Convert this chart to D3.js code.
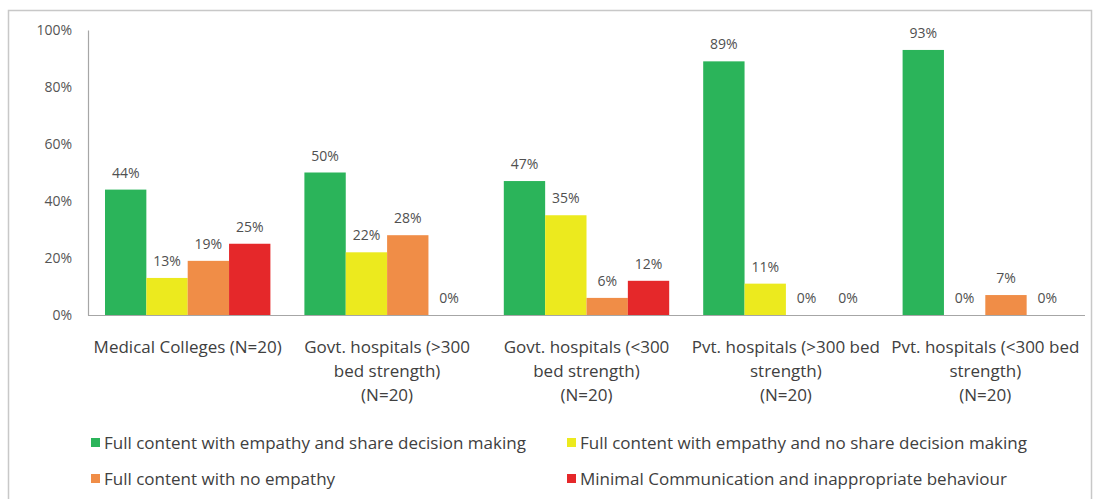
<!DOCTYPE html>
<html>
<head>
<meta charset="utf-8">
<script src="https://cdn.jsdelivr.net/npm/d3@7"></script>
<style>
  html, body { margin: 0; padding: 0; background: #fff; }
  svg { display: block; font-family: "Open Sans", Lato, sans-serif; }
</style>
</head>
<body>
<svg id="chart" width="1097" height="499"></svg>
<script>
// Hospital groups (x axis), with the wrapped lines of each axis label
const categories = [
  "Medical Colleges (N=20)",
  "Govt. hospitals (>300 bed strength) (N=20)",
  "Govt. hospitals (<300 bed strength) (N=20)",
  "Pvt. hospitals (>300 bed strength) (N=20)",
  "Pvt. hospitals (<300 bed strength) (N=20)"
];
const categoryLines = [
  ["Medical Colleges (N=20)"],
  ["Govt. hospitals (>300", "bed strength)", "(N=20)"],
  ["Govt. hospitals (<300", "bed strength)", "(N=20)"],
  ["Pvt. hospitals (>300 bed", "strength)", "(N=20)"],
  ["Pvt. hospitals (<300 bed", "strength)", "(N=20)"]
];

// Communication categories (series)
const seriesNames = [
  "Full content with empathy and share decision making",
  "Full content with empathy and no share decision making",
  "Full content with no empathy",
  "Minimal Communication and inappropriate behaviour"
];
const seriesColors = ["#2bb45a", "#ecea1e", "#f08d47", "#e5282a"];

// Percentages per series, one value per hospital group
const fullEmpathyShared   = [44, 50, 47, 89, 93];
const fullEmpathyNoShared = [13, 22, 35, 11, 0];
const fullNoEmpathy       = [19, 28, 6, 0, 7];
const minimalComm         = [25, 0, 12, 0, 0];
const seriesValues = [fullEmpathyShared, fullEmpathyNoShared, fullNoEmpathy, minimalComm];

const yTicks = [0, 20, 40, 60, 80, 100];

const svg = d3.select("#chart");

// outer frame
svg.append("rect")
  .attr("x", 8.5).attr("y", 10.5)
  .attr("width", 1083).attr("height", 500)
  .attr("fill", "#fff").attr("stroke", "#c8c8c8").attr("stroke-width", 1.5);

const plot = { left: 88, right: 1085, top: 30, bottom: 315 };

const x = d3.scaleBand().domain(categories).range([plot.left, plot.right]).paddingInner(0).paddingOuter(0);
const xs = d3.scaleBand().domain(d3.range(seriesNames.length))
  .range([17, x.bandwidth() - 17]).padding(0);
const y = d3.scaleLinear().domain([0, 100]).range([plot.bottom, plot.top]);

// y axis labels
const yAxis = d3.axisLeft(y).tickValues(yTicks).tickFormat(d => d + "%").tickSize(0).tickPadding(16);
const gy = svg.append("g").attr("transform", `translate(${plot.left},0)`).call(yAxis);
gy.select(".domain").attr("stroke", "#a6a6a6").attr("stroke-width", 1.2);
gy.selectAll("text").attr("font-size", 14).attr("fill", "#555").attr("font-family", "'Open Sans', sans-serif");

// bars
const rows = [];
seriesValues.forEach((vals, si) => vals.forEach((v, ci) => rows.push({ si, ci, v })));

const g = svg.append("g");
g.selectAll("rect.bar").data(rows).enter().append("rect")
  .attr("class", "bar")
  .attr("x", d => x(categories[d.ci]) + xs(d.si))
  .attr("width", xs.bandwidth())
  .attr("y", d => y(d.v))
  .attr("height", d => y(0) - y(d.v))
  .attr("fill", d => seriesColors[d.si]);

// value labels
g.selectAll("text.val").data(rows).enter().append("text")
  .attr("class", "val")
  .attr("x", d => x(categories[d.ci]) + xs(d.si) + xs.bandwidth() / 2)
  .attr("y", d => y(d.v) - 12)
  .attr("text-anchor", "middle")
  .attr("font-size", 14)
  .attr("fill", "#505050")
  .text(d => d.v + "%");

// x baseline
svg.append("line")
  .attr("x1", plot.left).attr("x2", plot.right)
  .attr("y1", y(0) + 0.5).attr("y2", y(0) + 0.5)
  .attr("stroke", "#a6a6a6").attr("stroke-width", 1.2);

// category labels
const xl = svg.append("g");
categories.forEach((c, i) => {
  const t = xl.append("text")
    .attr("x", x(c) + x.bandwidth() / 2)
    .attr("y", 353)
    .attr("text-anchor", "middle")
    .attr("font-size", 17)
    .attr("fill", "#404040");
  categoryLines[i].forEach((line, li) => {
    t.append("tspan").attr("x", x(c) + x.bandwidth() / 2).attr("dy", li === 0 ? 0 : 24).text(line);
  });
});

// legend (two columns, two rows)
const legendPos = [[91, 443], [567, 443], [91, 479], [567, 479]];
const lg = svg.append("g");
seriesNames.forEach((name, i) => {
  const [lx, ly] = legendPos[i];
  lg.append("rect").attr("x", lx).attr("y", ly - 5).attr("width", 9).attr("height", 9).attr("fill", seriesColors[i]);
  lg.append("text").attr("x", lx + 13).attr("y", ly + 6)
    .attr("font-size", 17).attr("fill", "#404040").text(name);
});
</script>
</body>
</html>
